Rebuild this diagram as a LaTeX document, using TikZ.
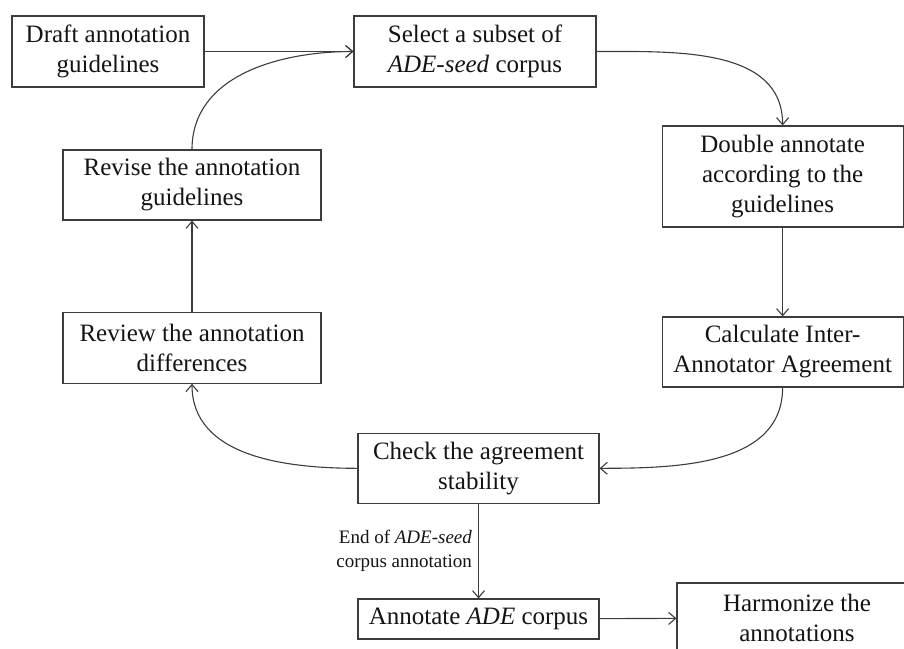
\documentclass[tikz,border=0pt]{standalone}
\usepackage{fontspec}
\setmainfont{Liberation Serif}
\usetikzlibrary{arrows.meta}
\definecolor{linegray}{HTML}{3C3C3C}
\definecolor{inkblack}{HTML}{141414}
\begin{document}
\begin{tikzpicture}[x=1pt,y=-1pt,
  box/.style={draw=linegray, line width=1.1pt, align=center, inner sep=0pt,
    font=\fontsize{25}{30}\selectfont, text=inkblack},
  flow/.style={draw=linegray, line width=1.1pt,
    -{Straight Barb[length=7pt,width=12pt,line width=1.1pt]}},
  note/.style={font=\fontsize{19}{24}\selectfont, text=inkblack, align=right, inner sep=0pt},
]
\useasboundingbox (0,0) rectangle (904,648);
\clip (0,0) rectangle (904,648);

% process steps
\node[box, minimum width=192pt, minimum height=71pt] (draft) at (108,51.5)
  {Draft annotation\\guidelines};
\node[box, minimum width=242pt, minimum height=71pt] (select) at (475,51.5)
  {Select a subset of\\\textit{ADE-seed} corpus};
\node[box, minimum width=241pt, minimum height=101pt] (double) at (782.6,176.5)
  {Double annotate\\according to the\\guidelines};
\node[box, minimum width=241pt, minimum height=70pt] (calc) at (782.6,352)
  {Calculate Inter-\\Annotator Agreement};
\node[box, minimum width=241pt, minimum height=70pt] (check) at (478.5,468.3)
  {Check the agreement\\stability};
\node[box, minimum width=258pt, minimum height=71pt] (review) at (192,347.7)
  {Review the annotation\\differences};
\node[box, minimum width=258pt, minimum height=70pt] (revise) at (192,185)
  {Revise the annotation\\guidelines};
\node[box, minimum width=241pt, minimum height=40pt] (annot) at (478.5,619)
  {Annotate \textit{ADE} corpus};
\node[box, minimum width=240pt, minimum height=70pt] (harm) at (797,618)
  {Harmonize the\\annotations};

% connectors
\draw[flow] (draft) -- (select);
\draw[flow] (revise.north) to[out=90,in=180] (select.west);
\draw[flow] (select.east) to[out=0,in=90] (double.north);
\draw[flow] (double) -- (calc);
\draw[flow] (calc.south) to[out=-90,in=0] (check.east);
\draw[flow] (check.west) to[out=180,in=-90] (review.south);
\draw[flow] (review) -- (revise);
\draw[flow] (check) -- node[note, left=6pt]
  {End of \textit{ADE-seed}\\corpus annotation} (annot);
\draw[flow] (annot) -- (harm);
\end{tikzpicture}
\end{document}
